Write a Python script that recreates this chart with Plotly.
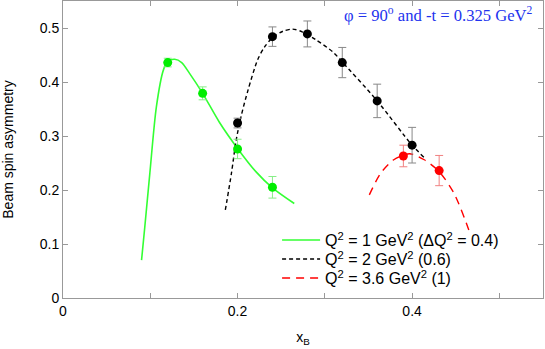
import plotly.graph_objects as go

# ---- data ----
x_q1 = [0.12, 0.16, 0.20, 0.24]
y_q1 = [0.436, 0.379, 0.276, 0.205]
e_q1 = [0.008, 0.012, 0.018, 0.020]

x_q2 = [0.20, 0.24, 0.28, 0.32, 0.36, 0.40]
y_q2 = [0.324, 0.484, 0.489, 0.436, 0.365, 0.283]
e_q2 = [0.009, 0.018, 0.024, 0.028, 0.031, 0.033]

x_q36 = [0.39, 0.431]
y_q36 = [0.263, 0.236]
e_q36 = [0.020, 0.028]

cx_q1 = [0.090, 0.0937, 0.0995, 0.107, 0.115, 0.120, 0.128, 0.136, 0.145, 0.160, 0.179, 0.200, 0.221, 0.240, 0.265]
cy_q1 = [0.070, 0.131, 0.231, 0.354, 0.422, 0.438, 0.442, 0.436, 0.416, 0.379, 0.326, 0.277, 0.234, 0.204, 0.175]

cx_q2 = [0.186, 0.193, 0.1985, 0.204, 0.212, 0.223, 0.231, 0.240, 0.252, 0.263, 0.274, 0.290, 0.309, 0.320, 0.360, 0.400, 0.414]
cy_q2 = [0.163, 0.231, 0.293, 0.336, 0.385, 0.441, 0.465, 0.482, 0.494, 0.498, 0.493, 0.478, 0.456, 0.437, 0.365, 0.283, 0.260]

cx_q36 = [0.351, 0.364, 0.379, 0.397, 0.414, 0.431, 0.448, 0.465]
cy_q36 = [0.191, 0.231, 0.256, 0.267, 0.256, 0.234, 0.194, 0.126]

names = ["Q<sup>2</sup> = 1 GeV<sup>2</sup> (ΔQ<sup>2</sup> = 0.4)",
         "Q<sup>2</sup> = 2 GeV<sup>2</sup> (0.6)",
         "Q<sup>2</sup> = 3.6 GeV<sup>2</sup> (1)"]

FONT = "Liberation Sans, Arial, sans-serif"

fig = go.Figure()

# curves (each in its own legend box so rows can be placed like the original)
fig.add_trace(go.Scatter(x=cx_q1, y=cy_q1, mode="lines", name=names[0], legend="legend",
                         line=dict(color="#33ff33", width=1.6, shape="spline", smoothing=0.8)))
fig.add_trace(go.Scatter(x=cx_q2, y=cy_q2, mode="lines", name=names[1], legend="legend2",
                         line=dict(color="#000000", width=1.4, dash="4px,3px", shape="spline", smoothing=0.8)))
fig.add_trace(go.Scatter(x=cx_q36, y=cy_q36, mode="lines", name=names[2], legend="legend3",
                         line=dict(color="#ff0000", width=1.4, dash="8px,6px", shape="spline", smoothing=0.8)))

# data points
fig.add_trace(go.Scatter(x=x_q1, y=y_q1, mode="markers", showlegend=False,
                         marker=dict(color="#00ee00", size=9),
                         error_y=dict(type="data", array=e_q1, color="#88ee88", thickness=1, width=4)))
fig.add_trace(go.Scatter(x=x_q2, y=y_q2, mode="markers", showlegend=False,
                         marker=dict(color="#000000", size=9),
                         error_y=dict(type="data", array=e_q2, color="#888888", thickness=1, width=4)))
fig.add_trace(go.Scatter(x=x_q36, y=y_q36, mode="markers", showlegend=False,
                         marker=dict(color="#ff0000", size=9),
                         error_y=dict(type="data", array=e_q36, color="#f08080", thickness=1, width=4)))

fig.add_annotation(text="φ = 90<sup>o</sup> and -t = 0.325 GeV<sup>2</sup>",
                   xref="paper", yref="paper", x=0.983, y=0.995, xanchor="right", yanchor="top",
                   showarrow=False, font=dict(family="Liberation Serif, Times New Roman, serif",
                                              size=16.6, color="#2233ee"))

axis_common = dict(showline=True, mirror="ticks", linecolor="#999999", linewidth=1,
                   ticks="inside", ticklen=5, tickcolor="#999999", showgrid=False, zeroline=False,
                   tickfont=dict(family=FONT, size=14, color="#000000"))

fig.update_xaxes(range=[0, 0.55], tickvals=[0, 0.2, 0.4], ticktext=["0", "0.2", "0.4"],
                 minor=dict(tickvals=[0.1, 0.3, 0.5], ticks="inside", ticklen=5, tickcolor="#999999"),
                 title=dict(text="x<sub>B</sub>", font=dict(family=FONT, size=14, color="#000000"), standoff=14),
                 **axis_common)
fig.update_yaxes(range=[0, 0.55], tickvals=[0, 0.1, 0.2, 0.3, 0.4, 0.5],
                 ticktext=["0", "0.1", "0.2", "0.3", "0.4", "0.5"],
                 title=dict(text="Beam spin asymmetry", font=dict(family=FONT, size=14, color="#000000"), standoff=24),
                 **axis_common)

leg_common = dict(x=0.446, xanchor="left", yanchor="middle", bgcolor="rgba(0,0,0,0)",
                  itemwidth=38, borderwidth=0,
                  font=dict(family=FONT, size=16, color="#000000"))

fig.update_layout(width=545, height=349, margin=dict(l=63, r=2, t=1, b=51, autoexpand=False),
                  plot_bgcolor="white", paper_bgcolor="white",
                  font=dict(family=FONT, size=14, color="#000000"),
                  legend=dict(y=0.195, **leg_common),
                  legend2=dict(y=0.131, **leg_common),
                  legend3=dict(y=0.067, **leg_common))

fig.write_html("out.html", config={"displayModeBar": False},
               post_script="document.body.style.margin='0';document.body.style.overflow='hidden';")
